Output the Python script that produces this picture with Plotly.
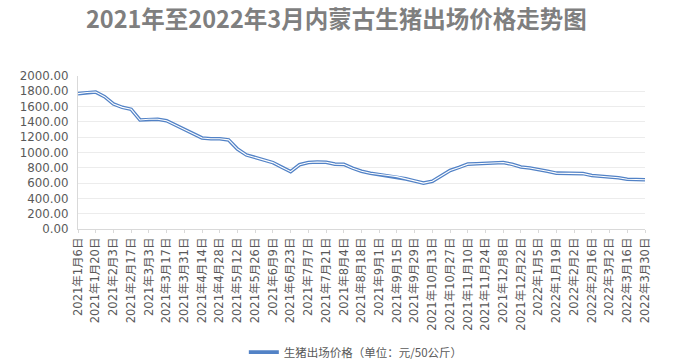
import plotly.graph_objects as go
import datetime as dt

start = dt.date(2021, 1, 6)
dates = [start + dt.timedelta(days=7 * i) for i in range(65)]
categories = [f"{d.year}年{d.month}月{d.day}日" for d in dates]

prices = [1770, 1785, 1790, 1730, 1635, 1590, 1565, 1425, 1435, 1435,
          1415, 1360, 1300, 1240, 1190, 1180, 1180, 1165, 1045, 968,
          937, 906, 868, 808, 750, 840, 870, 875, 872, 848,
          845, 795, 755, 728, 710, 700, 685, 655, 628, 600,
          625, 690, 765, 805, 848, 852, 860, 865, 870, 845,
          810, 797, 780, 755, 730, 726, 726, 724, 700, 692,
          680, 670, 650, 645, 643]

tick_labels = categories[::2]
y_ticks = list(range(0, 2001, 200))
y_tick_text = [f"{v:.2f}" for v in y_ticks]

series_name = "生猪出场价格（单位：元/50公斤）"
title_text = "2021年至2022年3月内蒙古生猪出场价格走势图"

font_family = "DejaVu Sans, Noto Sans CJK SC, sans-serif"

fig = go.Figure()
fig.add_trace(go.Scatter(
    x=categories, y=prices, mode="lines", name=series_name,
    line=dict(color="#5282C6", width=3.6), showlegend=True,
    hoverinfo="x+y"))
fig.add_trace(go.Scatter(
    x=categories, y=prices, mode="lines", name=series_name,
    line=dict(color="#ffffff", width=1.1), showlegend=False,
    hoverinfo="skip"))

fig.update_layout(
    width=692, height=364,
    margin=dict(l=78, r=47, t=76, b=135, autoexpand=False),
    paper_bgcolor="white", plot_bgcolor="white",
    font=dict(family=font_family, color="#595959", size=12),
    title=dict(text=f"<b>{title_text}</b>", x=0.486, xanchor="center",
               y=0.945, yanchor="middle",
               font=dict(family="Noto Sans CJK SC, sans-serif", size=23.5, color="#7f7f7f")),
    legend=dict(orientation="h", x=0.49, xanchor="center", y=-0.71, yanchor="top",
                font=dict(family="Noto Sans CJK SC, DejaVu Sans, sans-serif", size=11.5, color="#595959")),
    showlegend=True,
)
fig.update_xaxes(
    type="category", categoryorder="array", categoryarray=categories,
    range=[0, len(categories) - 1], automargin=False,
    tickmode="array", tickvals=tick_labels, ticktext=tick_labels,
    tickangle=-90, tickfont=dict(size=11.5, color="#595959", family=font_family),
    showgrid=False, showline=True, linecolor="#d9d9d9", linewidth=1,
    ticks="outside", ticklen=3, tickcolor="#d9d9d9", zeroline=False)
fig.update_yaxes(
    range=[0, 2000], tickmode="array", tickvals=y_ticks, ticktext=y_tick_text,
    automargin=False,
    tickfont=dict(size=11.8, color="#595959", family=font_family),
    showgrid=True, gridcolor="#ececec", gridwidth=1,
    showline=True, linecolor="#d9d9d9", linewidth=1,
    zeroline=False, ticks="", ticklabelstandoff=6)

fig.write_html("out.html", config={"displayModeBar": False},
               post_script="document.body.style.margin='0';")
